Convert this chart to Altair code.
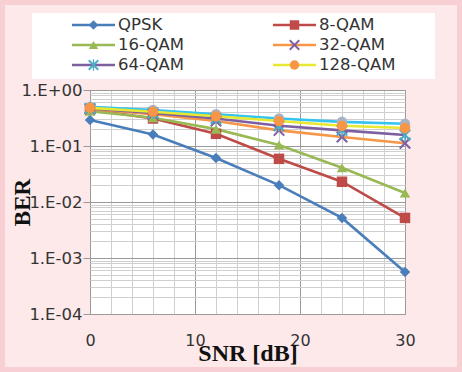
import altair as alt
import pandas as pd

# SNR sample points (dB)
snr = [0, 6, 12, 18, 24, 30]

series = ["QPSK", "8-QAM", "16-QAM", "32-QAM", "64-QAM", "128-QAM", "256-QAM"]
legend_series = series[:6]

ber_qpsk = [0.29, 0.16, 0.061, 0.020, 0.0052, 0.00056]
ber_8qam = [0.45, 0.31, 0.165, 0.059, 0.023, 0.0052]
ber_16qam = [0.42, 0.32, 0.20, 0.104, 0.041, 0.0145]
ber_32qam = [0.46, 0.37, 0.28, 0.19, 0.145, 0.112]
ber_64qam = [0.47, 0.39, 0.31, 0.23, 0.19, 0.157]
ber_128qam = [0.48, 0.41, 0.34, 0.28, 0.23, 0.21]
ber_256qam = [0.50, 0.44, 0.37, 0.31, 0.27, 0.25]
ber_all = [ber_qpsk, ber_8qam, ber_16qam, ber_32qam, ber_64qam, ber_128qam, ber_256qam]

line_colors = ["#4a7ebb", "#be4b48", "#98b954", "#f79646", "#7d60a0", "#e8e830", "#33c4f0"]
marker_colors = ["#4a7ebb", "#be4b48", "#98b954", "#7d60a0", "#4bacc6", "#f79646", "#a9b3c6"]
marker_sizes = [110, 110, 110, 110, 110, 110, 70]

X_PATH = ("M-0.86,-1.14L1.14,0.86L0.86,1.14L-1.14,-0.86Z"
          "M-1.14,0.86L0.86,-1.14L1.14,-0.86L-0.86,1.14Z")
STAR_PATH = X_PATH + "M-0.14,-1.2L0.14,-1.2L0.14,1.2L-0.14,1.2Z"
marker_shapes = ["diamond", "square", "triangle-up", X_PATH, STAR_PATH, "circle", "circle"]

rows = []
for k, (name, vals) in enumerate(zip(series, ber_all)):
    for s, b in zip(snr, vals):
        # draw order: the last series sits underneath the others
        rows.append({"series": name, "snr": s, "ber": b, "z": (k + 1) % len(series)})
df = pd.DataFrame(rows).sort_values(["z", "snr"]).reset_index(drop=True)

# legend entries laid out in two columns, three rows
legend_df = pd.DataFrame({
    "series": legend_series,
    "col": [i % 2 for i in range(len(legend_series))],
    "row": [i // 2 for i in range(len(legend_series))],
})

x_grid = list(range(0, 31, 2))
y_grid = [m * 10.0 ** e for e in range(-4, 0) for m in range(1, 10)] + [1.0]

decade = "abs(log(datum.value)/LN10 - round(log(datum.value)/LN10)) < 0.001"
label_font = "DejaVu Sans"
title_font = "Liberation Serif"

stroke_scale = alt.Scale(domain=series, range=line_colors)
fill_scale = alt.Scale(domain=series, range=marker_colors)
shape_scale = alt.Scale(domain=series, range=marker_shapes)
size_scale = alt.Scale(domain=series, range=marker_sizes)

x_enc = alt.X(
    "snr:Q",
    scale=alt.Scale(domain=[0, 30], nice=False),
    axis=alt.Axis(
        values=x_grid,
        labelExpr="datum.value % 10 === 0 ? datum.label : ''",
        labelFlush=False,
        ticks=False,
        domain=False,
        labelPadding=18,
        labelFont=label_font,
        labelFontSize=16,
        labelColor="#333333",
        gridColor={"condition": {"test": "datum.value % 10 === 0", "value": "#9a9a9a"}, "value": "#cfcfcf"},
        gridWidth=1,
        title="SNR [dB]",
        titleFont=title_font,
        titleFontSize=24,
        titleFontWeight="bold",
        titleColor="#111111",
        titleY=39,
        titleBaseline="middle",
    ),
)
y_enc = alt.Y(
    "ber:Q",
    scale=alt.Scale(type="log", domain=[1e-4, 1], nice=False),
    axis=alt.Axis(
        values=y_grid,
        labelExpr="(" + decade + ") ? '1.E' + (round(log(datum.value)/LN10) == 0 ? '+00' : '-0' + abs(round(log(datum.value)/LN10))) : ''",
        tickSize=7,
        tickColor="#9a9a9a",
        tickOpacity={"condition": {"test": decade, "value": 1}, "value": 0},
        domain=False,
        labelPadding=1,
        labelFont=label_font,
        labelFontSize=16.5,
        labelColor="#333333",
        gridColor={"condition": {"test": decade, "value": "#9a9a9a"}, "value": "#cfcfcf"},
        title="BER",
        titleFont=title_font,
        titleFontSize=23,
        titleFontWeight="bold",
        titleColor="#111111",
        titleX=-68,
        titleY=112,
        titleAngle=-90,
        titleAlign="center",
        titleBaseline="middle",
    ),
)

base = alt.Chart(df)

lines = base.mark_line(strokeWidth=2.6).encode(
    x=x_enc,
    y=y_enc,
    order="snr:Q",
    stroke=alt.Stroke("series:N", scale=stroke_scale, legend=None),
)

points = base.mark_point(filled=True, opacity=1).encode(
    x=x_enc,
    y=y_enc,
    fill=alt.Fill("series:N", scale=fill_scale, legend=None),
    shape=alt.Shape("series:N", scale=shape_scale, legend=None),
    size=alt.Size("series:N", scale=size_scale, legend=None),
)

plot = alt.layer(lines, points)

# legend block above the plot
leg_x = alt.X("col:Q", scale=alt.Scale(domain=[0, 1], range=[-18, 183]), axis=None)
leg_y = alt.Y("row:Q", scale=alt.Scale(domain=[0, 2], range=[-65, -25]), axis=None)
leg_base = alt.Chart(legend_df)

leg_box = leg_base.mark_rect(fill="white").encode(
    x=alt.value(-58), x2=alt.value(345), y=alt.value(-77), y2=alt.value(-11)
)
leg_lines = leg_base.mark_rule(strokeWidth=2.6, x2Offset=43).encode(
    x=leg_x,
    x2=alt.X2("col:Q"),
    y=leg_y,
    stroke=alt.Stroke("series:N", scale=stroke_scale, legend=None),
)
leg_marks = leg_base.mark_point(filled=True, size=90, opacity=1, xOffset=21.5).encode(
    x=leg_x,
    y=leg_y,
    fill=alt.Fill("series:N", scale=fill_scale, legend=None),
    shape=alt.Shape("series:N", scale=shape_scale, legend=None),
)
leg_text = leg_base.mark_text(
    align="left", baseline="middle", dx=46, font=label_font, fontSize=16.5, color="#333333"
).encode(x=leg_x, y=leg_y, text="series:N")

# darker pink frame around the whole figure
frame = leg_base.mark_rect(fill=None, stroke="#f8cfd3", strokeWidth=5).encode(
    x=alt.value(-87.5), x2=alt.value(369.5), y=alt.value(-87.5), y2=alt.value(279.5)
)

legend = alt.layer(frame, leg_box, leg_lines, leg_marks, leg_text)

chart = (
    alt.layer(plot, legend)
    .resolve_scale(x="independent", y="independent")
    .properties(
        width=315,
        height=224,
        autosize=alt.AutoSizeParams(type="none"),
        padding={"left": 90, "top": 90, "right": 57, "bottom": 58},
        background="#fde9e9",
    )
    .configure_view(fill="white", stroke="#8a8a8a", strokeWidth=1)
)

chart.save("out.html", embed_options={"renderer": "svg", "actions": False})
